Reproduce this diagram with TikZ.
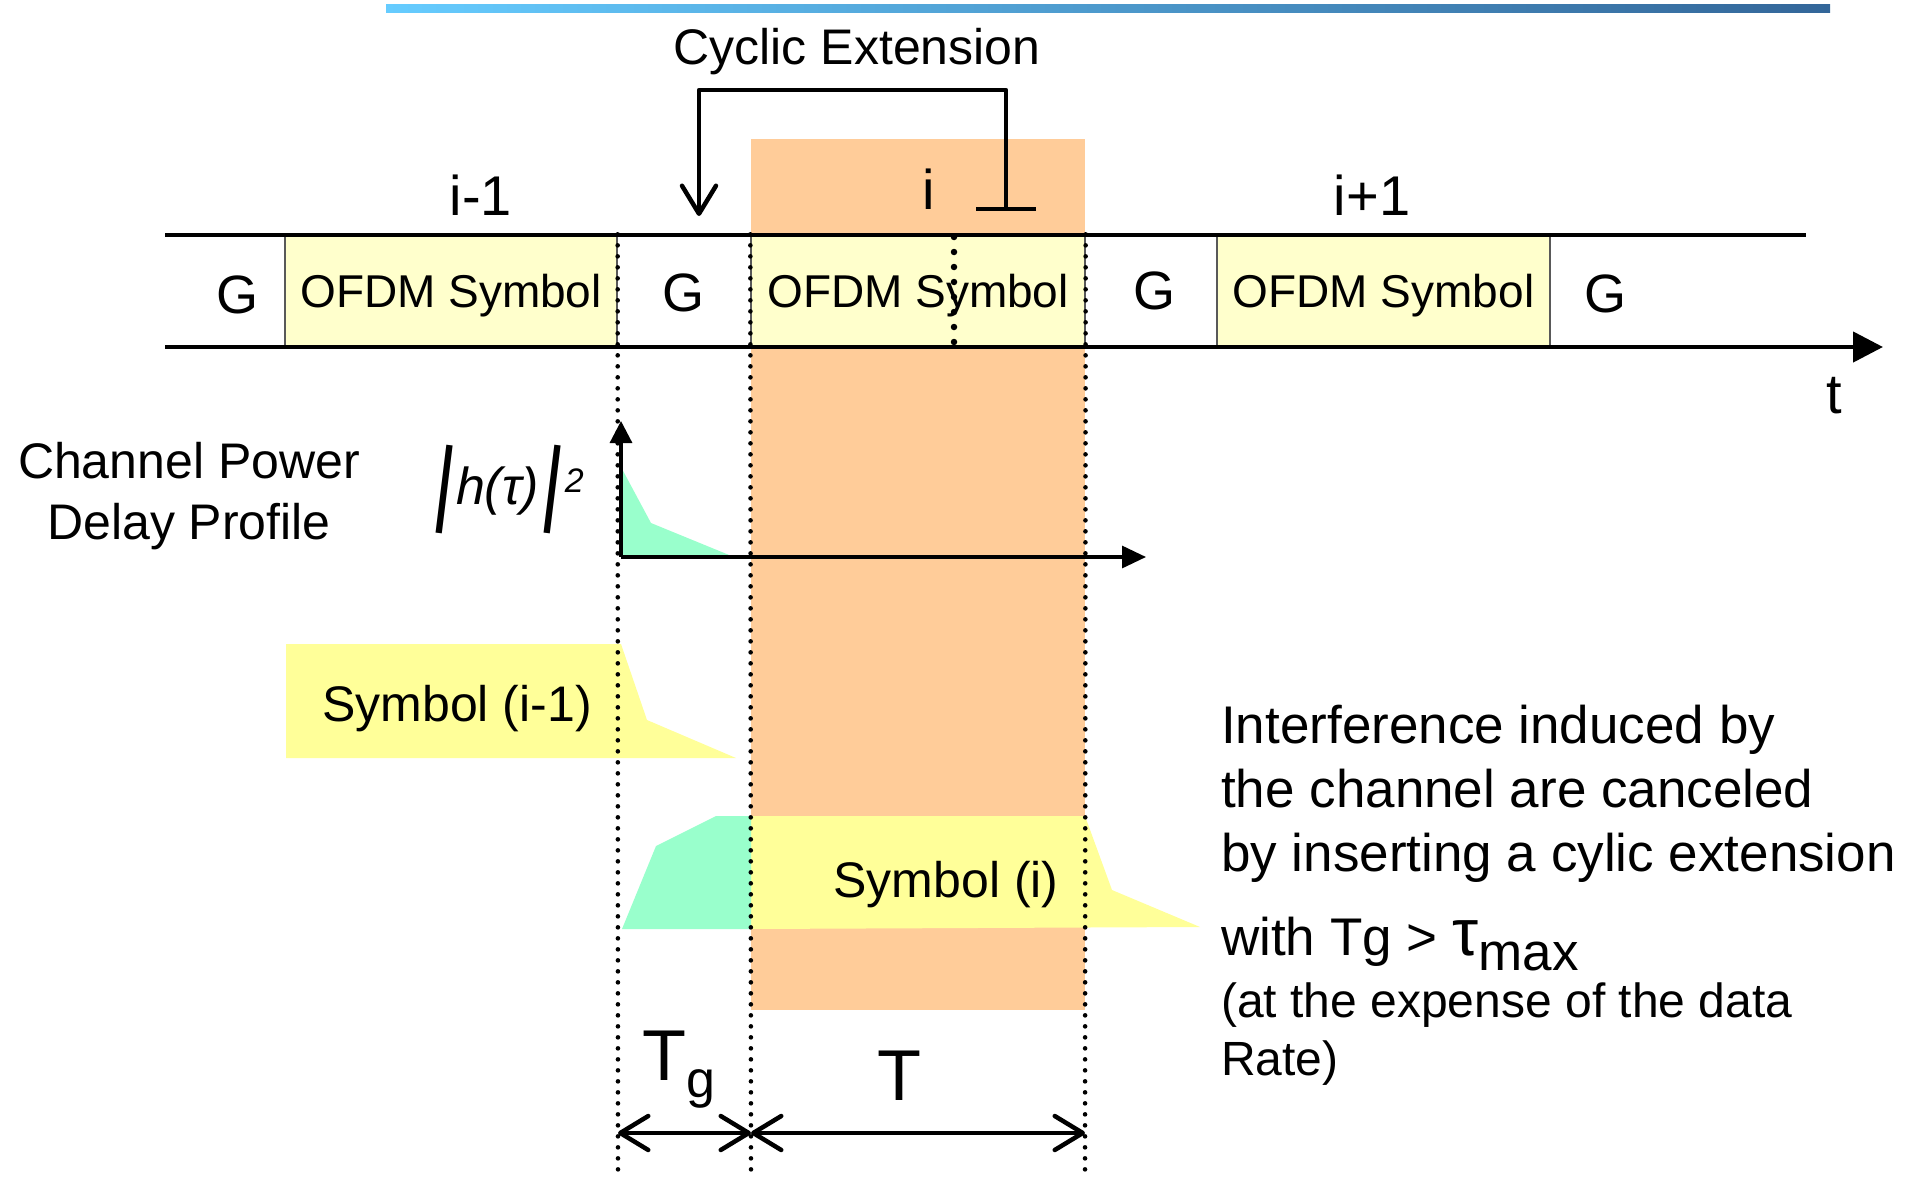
\documentclass[tikz,border=0pt]{standalone}
\usepackage{fontspec}
\usepackage{graphicx}
\setmainfont{Liberation Sans}
\usetikzlibrary{arrows.meta}
\definecolor{orangeband}{RGB}{255,204,153}
\definecolor{boxyellow}{RGB}{255,255,204}
\definecolor{symyellow}{RGB}{255,255,153}
\definecolor{mint}{RGB}{153,255,204}
\definecolor{barlight}{RGB}{102,204,255}
\definecolor{bardark}{RGB}{51,102,153}
\newcommand{\slbar}{\raisebox{-8pt}{\rotatebox[origin=c]{-7}{\scalebox{1.5}[1.8]{|}}}}
\tikzset{
  lbl/.style={inner sep=0pt, font=\fontsize{50}{60}\selectfont},
  glbl/.style={inner sep=0pt, font=\fontsize{54}{60}\selectfont},
  biglbl/.style={inner sep=0pt, font=\fontsize{56}{60}\selectfont},
  rtext/.style={anchor=base west, inner sep=0pt, font=\fontsize{53}{60}\selectfont},
  ofdmbox/.style={draw=black!65, line width=1.3pt, fill=boxyellow, minimum height=112pt, inner sep=0pt, text depth=0pt, font=\fontsize{46}{56}\selectfont},
  thickline/.style={line width=4.5pt},
  dotline/.style={line width=4.6pt, line cap=round, dash pattern=on 0pt off 11pt},
  bigdots/.style={line width=6.5pt, line cap=round, dash pattern=on 0pt off 15pt},
  barb/.tip={Straight Barb[length=28pt, width=34pt, line cap=round, line join=round]},
  dimline/.style={line width=4.5pt, barb-barb},
}
\begin{document}
\begin{tikzpicture}[x=1pt,y=-1pt]
\useasboundingbox (0,0) rectangle (1909,1178);
% top gradient bar
\shade[left color=barlight, right color=bardark] (386,4) rectangle (1830,12);
% orange band
\fill[orangeband] (751,139) rectangle (1085,1010);

% coordinates
\coordinate (tl0) at (165,235);
\coordinate (tl1) at (1806,235);
\coordinate (bl0) at (165,347);
\coordinate (bl1) at (1883,347);

% symbol boxes
\node[ofdmbox, minimum width=332pt] (s1) at (451,291) {OFDM Symbol};
\node[ofdmbox, minimum width=334pt] (s2) at (918,291) {OFDM Symbol};
\node[ofdmbox, minimum width=333pt] (s3) at (1383.5,291) {OFDM Symbol};

% time lines
\draw[thickline] (tl0) -- (tl1);
\draw[thickline, -{Triangle[length=30pt, width=30pt]}] (bl0) -- (bl1);

% guard labels
\node[glbl] (g0) at (237,295) {G};
\node[glbl] (g1) at (683,293) {G};
\node[glbl] (g2) at (1154,291) {G};
\node[glbl] (g3) at (1605,294) {G};

% index labels
\node[biglbl] (im1) at (481,195) {i-1};
\node[biglbl] (i0) at (929,189) {i};
\node[biglbl] (ip1) at (1372,195) {i+1};
\node[biglbl] (tlab) at (1834,396) {t};

% cyclic extension
\node[lbl] (cyc) at (857,52) {Cyclic Extension};
\coordinate (ce0) at (1006,211);
\coordinate (ce1) at (699,216);
\draw[thickline, line join=round, {Bar[width=60pt]}-barb] (ce0) -- (1006,90) -- (699,90) -- (ce1);

% channel power delay profile
\node[lbl, align=center, font=\fontsize{50}{61}\selectfont] (cpdp) at (189,496) {Channel Power\\Delay Profile};
\fill[mint] (621,467) -- (651,523) -- (734,557) -- (621,557) -- cycle;
\coordinate (pdo) at (621,557);
\coordinate (pdy) at (621,421);
\coordinate (pdx) at (1146,557);
\draw[line width=3.2pt, -{Triangle[length=22pt, width=22pt]}] (pdo) -- (pdy);
\draw[line width=3.2pt, -{Triangle[length=24pt, width=22pt]}] (pdo) -- (pdx);
\node[inner sep=0pt, font=\fontsize{52}{54}\selectfont\itshape] (hlab) at (506,489)
  {\slbar\kern-3pt h(τ)\kern-3pt\slbar\kern-2pt\raisebox{12pt}{\fontsize{34}{34}\selectfont 2}};

% symbol (i-1)
\fill[symyellow] (286,644) -- (621,644) -- (647,720) -- (736,758) -- (286,758) -- cycle;
\node[lbl] (sym1) at (457,709) {Symbol (i-1)};

% symbol (i)
\fill[symyellow] (751,816) -- (1085,816) -- (1112,890) -- (1200,927) -- (751,929) -- cycle;
\fill[mint] (622,929) -- (656,846) -- (716,816) -- (751,816) -- (751,929) -- cycle;
\node[lbl] (sym2) at (946,885) {Symbol (i)};

% dotted guides
\coordinate (d1) at (618,1178);
\coordinate (d2) at (751,1178);
\coordinate (d3) at (1085,1178);
\draw[dotline] (s1.north east) -- (d1);
\draw[dotline] (s2.north west) -- (d2);
\draw[dotline] (s2.north east) -- (d3);
\coordinate (m0) at (954,237);
\coordinate (m1) at (954,347);
\draw[bigdots] (m0) -- (m1);

% durations
\coordinate (a0) at (618,1133);
\coordinate (a1) at (751,1133);
\coordinate (a2) at (1085,1133);
\draw[dimline] (a0) -- (a1);
\draw[dimline] (a1) -- (a2);
\node[inner sep=0pt, anchor=base, font=\fontsize{72}{72}\selectfont] (tg) at (679,1080) {T\raisebox{-17pt}{\fontsize{52}{52}\selectfont g}};
\node[inner sep=0pt, anchor=base, font=\fontsize{72}{72}\selectfont] (tt) at (899,1100) {T};

% explanation
\node[rtext] (r1) at (1221,743) {Interference induced by};
\node[rtext] (r2) at (1221,807) {the channel are canceled};
\node[rtext] (r3) at (1221,871) {by inserting a cylic extension};
\node[rtext] (r4) at (1221,955) {with Tg > {\fontsize{66}{66}\selectfont τ}\raisebox{-15pt}{max}};
\node[rtext, font=\fontsize{48}{56}\selectfont] (r5) at (1221,1017) {(at the expense of the data};
\node[rtext, font=\fontsize{48}{56}\selectfont] (r6) at (1221,1075) {Rate)};
\end{tikzpicture}
\end{document}
